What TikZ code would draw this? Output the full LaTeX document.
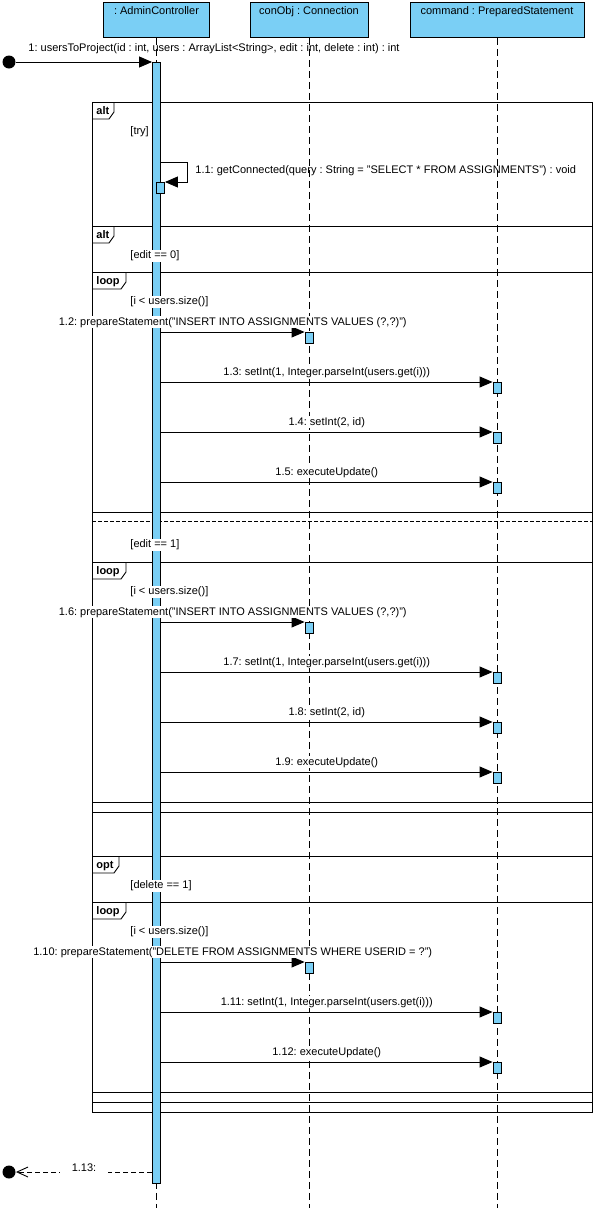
\documentclass[tikz,border=0pt]{standalone}
\usepackage{fontspec}
\setmainfont{Liberation Sans}
\usetikzlibrary{arrows.meta}
\definecolor{vpblue}{RGB}{122,207,245}
\frenchspacing

\begin{document}
\begin{tikzpicture}[x=1pt, y=-1pt, font=\fontsize{11}{13}\selectfont, line width=0.9pt,
    head/.style={draw, fill=vpblue, inner sep=0pt, text height=12pt, text depth=23pt, anchor=north},
    actbox/.style={draw, fill=vpblue, inner sep=0pt, minimum width=8pt, minimum height=11pt, anchor=north},
    lifeline/.style={dash pattern=on 7pt off 4pt},
    msg/.style={-{Triangle[length=13pt, width=11pt]}},
    reply/.style={dash pattern=on 5pt off 3pt, -{Straight Barb[length=11pt, width=10pt]}},
    msglabel/.style={midway, anchor=base, yshift=7pt, inner sep=1pt, fill=white},
    dot/.style={circle, fill=black, inner sep=0pt, minimum size=13pt},
    fragtag/.style={font=\fontsize{11}{13}\selectfont\bfseries, anchor=base west, inner sep=0pt},
    guard/.style={anchor=west, inner sep=1pt, fill=white}]

    \useasboundingbox (0,0) rectangle (596,1208);

    % Lifelines
    \node[head, minimum width=106pt] (admin) at (156.5,2) {: AdminController};
    \node[head, minimum width=118pt] (conn) at (309,2) {conObj : Connection};
    \node[head, minimum width=174pt] (cmd) at (497,2) {command : PreparedStatement};
    \coordinate (bottom) at (0,1208);
    \foreach \n in {admin,conn,cmd} {
        \draw[lifeline] (\n.south) -- (\n.south |- bottom);
    }

    % Combined fragments
    \foreach \ya/\yb/\w/\kind in {102/1112/22/alt, 226/812/22/alt, 272/512/34/loop,
        562/802/34/loop, 856/1102/27/opt, 902/1092/34/loop} {
        \draw (92,\ya) rectangle (592,\yb);
        \draw (92,\ya+17) -- (\w+87,\ya+17) -- (\w+92,\ya+10) -- (\w+92,\ya);
        \node[fragtag] (t\ya) at (96,\ya+12) {\kind};
    }
    % second operand of the inner alt
    \draw[dash pattern=on 4pt off 2pt] (92,521) -- (592,521);

    % Activation of the controller
    \node[actbox, minimum height=1121pt] (bar) at (156.5,62) {};

    % Guards
    \foreach \yg/\guard in {132/{[try]}, 256/{[edit == 0]}, 302/{[i < users.size()]},
        545/{[edit == 1]}, 592/{[i < users.size()]}, 886/{[delete == 1]}, 932/{[i < users.size()]}} {
        \node[guard] (g\yg) at (129,\yg) {\guard};
    }

    % Found message
    \node[dot] (start) at (9,62) {};
    \draw[msg] (start) -- (bar.north west);
    \node[anchor=base west, inner sep=0pt] (m1) at (28,51)
        {1: usersToProject(id : int, users : ArrayList<String>, edit : int, delete : int) : int};

    % Self message
    \node[actbox] (s1) at (160.5,182) {};
    \coordinate (s1top) at ([yshift=20pt]s1.north);
    \draw[msg] (bar.east |- s1top) -- ++(26,0) |- (s1.north east);
    \node[anchor=base west, inner sep=0pt] (m11) at (195,173.5)
        {1.1: getConnected(query : String = "SELECT * FROM ASSIGNMENTS") : void};

    % Calls
    \foreach \y/\tgt/\txt [count=\i] in {
        332/conn/{1.2: prepareStatement("INSERT INTO ASSIGNMENTS VALUES (?,?)")},
        382/cmd/{1.3: setInt(1, Integer.parseInt(users.get(i)))},
        432/cmd/{1.4: setInt(2, id)},
        482/cmd/{1.5: executeUpdate()},
        622/conn/{1.6: prepareStatement("INSERT INTO ASSIGNMENTS VALUES (?,?)")},
        672/cmd/{1.7: setInt(1, Integer.parseInt(users.get(i)))},
        722/cmd/{1.8: setInt(2, id)},
        772/cmd/{1.9: executeUpdate()},
        962/conn/{1.10: prepareStatement("DELETE FROM ASSIGNMENTS WHERE USERID = ?")},
        1012/cmd/{1.11: setInt(1, Integer.parseInt(users.get(i)))},
        1062/cmd/{1.12: executeUpdate()}} {
        \node[actbox] (act\i) at (\tgt.south |- 0,\y) {};
        \draw[msg] (bar.east |- act\i.north) -- node[msglabel] (lbl\i) {\txt} (act\i.north west);
    }

    % Return
    \node[dot] (stop) at (9,1172) {};
    \draw[reply] (bar.west |- stop) -- node[midway, fill=white, inner xsep=12pt, inner ysep=2pt, yshift=4pt] (m113) {1.13:} (stop);

\end{tikzpicture}
\end{document}
